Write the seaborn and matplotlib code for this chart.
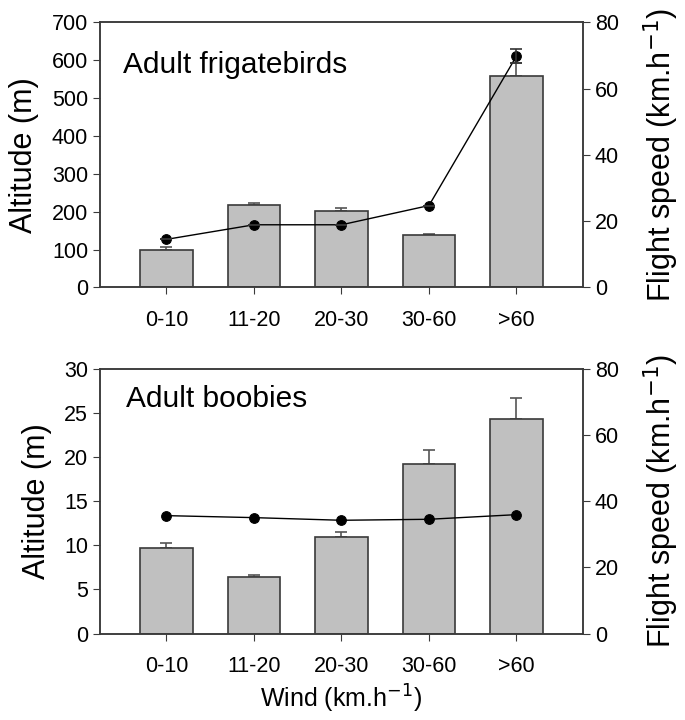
import numpy as np
import pandas as pd
import seaborn as sns
import matplotlib.pyplot as plt

# categories wind
wind = ['0-10', '11-20', '20-30', '30-60', '>60']

# frigatebirds
frig_alt = [100, 217, 203, 138, 559]
frig_alt_err = [6, 7, 6, 4, 33]
frig_speed = [14.5, 18.9, 18.9, 24.7, 69.8]
frig_speed_err = [0, 0, 0, 0, 2.2]

# boobies
boob_alt = [9.7, 6.35, 10.9, 19.2, 24.25]
boob_alt_err = [0.55, 0.25, 0.6, 1.55, 2.4]
boob_speed = [35.6, 35.0, 34.2, 34.5, 35.9]

sns.set_style('ticks')
plt.rcParams['font.family'] = ['Liberation Sans', 'DejaVu Sans']
plt.rcParams['text.color'] = 'black'
plt.rcParams['axes.labelcolor'] = 'black'
plt.rcParams['xtick.color'] = 'black'
plt.rcParams['ytick.color'] = 'black'

edge = '#3a3a3a'
fig, axes = plt.subplots(2, 1, figsize=(6.85, 7.2), dpi=100)
plt.subplots_adjust(left=0.146, right=0.851, top=0.969, bottom=0.12, hspace=0.306)

def panel(ax, alt, alt_err, speed, speed_err, ymax, ystep, title, tx, ty):
    df = pd.DataFrame({'wind': wind, 'alt': alt})
    sns.barplot(data=df, x='wind', y='alt', color='#c0c0c0', saturation=1,
                edgecolor=edge, linewidth=1.2, width=0.6, ax=ax, zorder=2)
    # upper error bars only
    ax.errorbar(np.arange(5), alt, yerr=[np.zeros(5), alt_err], fmt='none',
                ecolor='#555555', elinewidth=1.2, capsize=4, capthick=1.2, zorder=1)
    ax.set_xlim(-0.76, 4.76)
    ax.set_ylim(0, ymax)
    ax.set_yticks(np.arange(0, ymax + ystep / 2, ystep))
    ax.set_ylabel('Altitude (m)', fontsize=22, labelpad=9)
    ax.set_xlabel('')
    ax.tick_params(axis='both', labelsize=15.5, length=5, color=edge, direction='out')
    ax.tick_params(axis='x', pad=11)
    for s in ax.spines.values():
        s.set_color(edge)
        s.set_linewidth(1.1)
        s.set_visible(True)
    ax.text(tx, ty, title, transform=ax.transAxes, fontsize=21.5, va='baseline', ha='left')

    ax2 = ax.twinx()
    sns.lineplot(x=np.arange(5), y=speed, marker='o', color='black', linewidth=1,
                 markersize=7, markeredgecolor='black', ax=ax2)
    if speed_err is not None:
        ax2.errorbar(np.arange(5), speed, yerr=speed_err, fmt='none', ecolor='#333333',
                     elinewidth=1.2, capsize=4, capthick=1.2)
    ax2.set_ylim(0, 80)
    ax2.set_yticks([0, 20, 40, 60, 80])
    ax2.set_ylabel('Flight speed (km.h$^{-1}$)', fontsize=22, labelpad=16)
    ax2.tick_params(axis='y', labelsize=15.5, length=5, color=edge, direction='out')
    for s in ax2.spines.values():
        s.set_color(edge)
        s.set_linewidth(1.1)
    return ax2

panel(axes[0], frig_alt, frig_alt_err, frig_speed, frig_speed_err, 700, 100,
      'Adult frigatebirds', 0.047, 0.809)
panel(axes[1], boob_alt, boob_alt_err, boob_speed, None, 30, 5,
      'Adult boobies', 0.054, 0.856)
axes[1].set_xlabel('Wind (km.h$^{-1}$)', fontsize=18, labelpad=4)

plt.savefig('out.png', dpi=100)
